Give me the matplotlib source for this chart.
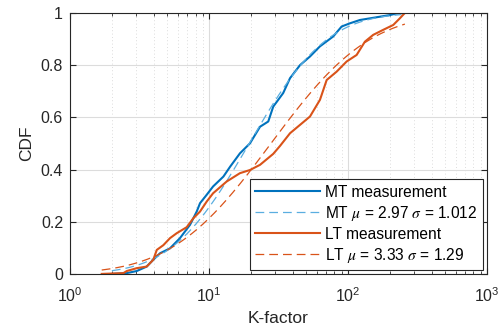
import numpy as np
import matplotlib
matplotlib.use("Agg")
import matplotlib.pyplot as plt
from math import erf

plt.rcParams["font.family"] = ["Liberation Sans", "DejaVu Sans"]
plt.rcParams["mathtext.fontset"] = "stix"

mt_k = [2.0, 2.56, 3.02, 3.56, 3.97, 4.44, 5.24, 6.18, 7.30, 8.16, 8.62, 9.62,
        10.7, 12.7, 14.2, 16.7, 19.7, 23.3, 26.7, 29.0, 34.2, 38.3, 45.2, 53.3,
        62.9, 78.4, 90.1, 103, 122, 201, 224, 243]
mt_cdf = [0.0, 0.003, 0.011, 0.028, 0.054, 0.079, 0.098, 0.137, 0.188, 0.239,
          0.271, 0.303, 0.335, 0.373, 0.411, 0.462, 0.50, 0.564, 0.584, 0.641,
          0.693, 0.75, 0.80, 0.833, 0.872, 0.91, 0.948, 0.96, 0.973, 0.992,
          0.998, 1.0]

lt_k = [1.69, 2.42, 2.56, 3.02, 3.56, 3.97, 4.21, 4.69, 5.24, 5.86, 6.91, 7.71,
        8.62, 9.62, 10.7, 13.4, 16.7, 19.7, 23.3, 29.0, 32.4, 38.3, 53.3, 62.9,
        70.3, 82.9, 97.9, 115.5, 132.5, 152, 179, 212, 237, 257]
lt_cdf = [0.0, 0.003, 0.011, 0.022, 0.028, 0.054, 0.092, 0.11, 0.137, 0.156,
          0.179, 0.213, 0.239, 0.277, 0.309, 0.354, 0.386, 0.398, 0.418, 0.46,
          0.49, 0.539, 0.603, 0.667, 0.743, 0.775, 0.814, 0.839, 0.89, 0.916,
          0.935, 0.954, 0.98, 1.0]

# lognormal fit parameters
mt_mu, mt_sigma = 2.97, 1.012
lt_mu, lt_sigma = 3.33, 1.29


def logn_cdf(x, mu, s):
    return np.array([0.5 * (1 + erf((np.log(v) - mu) / (s * np.sqrt(2)))) for v in x])


blue = "#0072BD"
orange = "#D95319"
dark = "#262626"

fig = plt.figure(figsize=(5.04, 3.32), dpi=100)
ax = fig.add_axes([0.139, 0.175, 0.827, 0.786])

xb = np.logspace(np.log10(mt_k[0]), np.log10(mt_k[-1]), 200)
xo = np.logspace(np.log10(lt_k[0]), np.log10(lt_k[-1]), 200)

ax.plot(mt_k, mt_cdf, color=blue, lw=1.5, label="MT measurement")
ax.plot(xb, logn_cdf(xb, mt_mu, mt_sigma), color="#5aaee0", lw=0.9,
        dashes=(7, 4), label=r"MT $\mu$ = 2.97 $\sigma$ = 1.012")
ax.plot(lt_k, lt_cdf, color=orange, lw=1.5, label="LT measurement")
ax.plot(xo, logn_cdf(xo, lt_mu, lt_sigma), color=orange, lw=0.9,
        dashes=(7, 4), label=r"LT $\mu$ = 3.33 $\sigma$ = 1.29")

ax.set_xscale("log")
ax.set_xlim(1, 1000)
ax.set_ylim(0, 1)
ax.set_yticks([0, 0.2, 0.4, 0.6, 0.8, 1])
ax.set_yticklabels(["0", "0.2", "0.4", "0.6", "0.8", "1"])
ax.grid(True, which="major", color="#dcdcdc", lw=0.8)
ax.grid(True, which="minor", color="#d0d0d0", lw=0.6, linestyle=(0, (1, 3)))
ax.set_axisbelow(True)
ax.tick_params(which="both", direction="in", top=True, right=True,
               labelsize=11.5, colors=dark)
ax.tick_params(axis="x", which="major", pad=9)
ax.tick_params(axis="y", which="major", pad=5)
ax.tick_params(which="major", length=4)
ax.tick_params(which="minor", length=2)
for s in ax.spines.values():
    s.set_color(dark)
    s.set_linewidth(0.8)

ax.set_xlabel("K-factor", fontsize=12.5, color=dark, labelpad=4)
ax.set_ylabel("CDF", fontsize=12.5, color=dark, labelpad=5)

leg = ax.legend(loc="lower right", fontsize=11.2, frameon=True, fancybox=False,
                edgecolor=dark, framealpha=1, borderaxespad=0.25,
                handlelength=4.2, handletextpad=0.3, labelspacing=0.25,
                borderpad=0.35)
leg.get_frame().set_linewidth(0.8)

fig.savefig("out.png", dpi=100)
